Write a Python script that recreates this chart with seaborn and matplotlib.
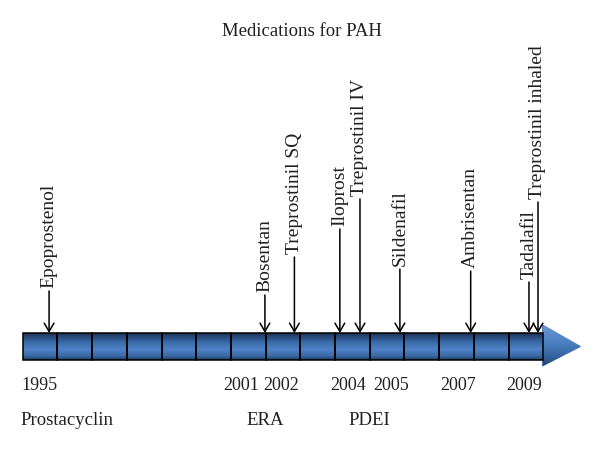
import matplotlib
matplotlib.use("Agg")
import matplotlib.pyplot as plt
import seaborn as sns
import numpy as np
from matplotlib.colors import LinearSegmentedColormap
from matplotlib.patches import Polygon, Rectangle

# data
timeline_years = list(range(1995, 2010))
drugs = ["Epoprostenol", "Bosentan", "Treprostinil SQ", "Iloprost", "Treprostinil IV",
         "Sildenafil", "Ambrisentan", "Tadalafil", "Treprostinil inhaled"]
drug_pos = [1995.26, 2001.48, 2002.33, 2003.64, 2004.22, 2005.37, 2007.41, 2009.09, 2009.35]
stem_len = [42, 38, 76, 104, 134, 64, 62, 51, 131]
year_labels = ["1995", "2001", "2002", "2004", "2005", "2007", "2009"]
year_label_pos = [1994.97, 2000.8, 2001.95, 2003.87, 2005.12, 2007.05, 2008.95]
classes = ["Prostacyclin", "ERA", "PDEI"]
class_pos = [1995.77, 2001.48, 2004.5]

TXT = "#231f20"
BAR_DEPTH = 27

sns.set_theme(style="white")
plt.rcParams['font.family'] = ['Liberation Serif', 'DejaVu Serif']

fig = plt.figure(figsize=(6, 4.52), dpi=100)
ax = fig.add_axes([0, 0, 1, 1])

# timeline blocks, one per year
sns.barplot(x=timeline_years, y=[-BAR_DEPTH] * len(timeline_years), native_scale=True,
            width=1, errorbar=None, facecolor="none", edgecolor="black",
            linewidth=1.1, zorder=3, ax=ax)

x0 = timeline_years[0] - 0.5
x1 = timeline_years[-1] + 0.5
ax.set_xlim(1995 - 40.05 / 34.7, 1995 + 559.95 / 34.7)
ax.set_ylim(-118, 334)
ax.axis("off")

# gradient fill of the bar
bar_cmap = LinearSegmentedColormap.from_list(
    "bar", [(0, "#1b3254"), (0.3, "#3765a2"), (0.6, "#4e83c7"), (0.85, "#3c6aa6"), (1, "#1f3a60")])
grad = np.linspace(0, 1, 64).reshape(-1, 1)
im = ax.imshow(grad, cmap=bar_cmap, aspect="auto", extent=(x0, x1, -BAR_DEPTH, 0),
               origin="upper", zorder=2)
clip = Rectangle((x0, -BAR_DEPTH), x1 - x0, BAR_DEPTH, transform=ax.transData)
im.set_clip_path(clip)

# arrowhead
head_len = 1.07
mid = -BAR_DEPTH / 2
head = Polygon([(x1 - 0.02, 8), (x1 + head_len, mid), (x1 - 0.02, -33)], closed=True,
               facecolor="none", edgecolor="#4a78b5", linewidth=0.8, zorder=2)
ax.add_patch(head)
head_cmap = LinearSegmentedColormap.from_list(
    "head", [(0, "#6896d2"), (0.45, "#4a7fc2"), (0.8, "#345f9a"), (1, "#223f68")])
im2 = ax.imshow(grad, cmap=head_cmap, aspect="auto",
                extent=(x1 - 0.02, x1 + head_len, -33, 8), origin="upper", zorder=2)
im2.set_clip_path(head)

# drug arrows and labels
for name, xp, ln in zip(drugs, drug_pos, stem_len):
    ax.annotate("", xy=(xp, 0), xytext=(xp, ln),
                arrowprops=dict(arrowstyle="->,head_length=0.6,head_width=0.35",
                                color="black", lw=1.1, mutation_scale=10,
                                shrinkA=0, shrinkB=0), zorder=4)
    ax.text(xp, ln + 4, name, rotation=90, ha="center", va="bottom",
            fontsize=14, color=TXT)

# year labels
for lab, xp in zip(year_labels, year_label_pos):
    ax.text(xp, -52, lab, ha="center", va="center", fontsize=13, color=TXT)

# drug class labels
for name, xp in zip(classes, class_pos):
    ax.text(xp, -87, name, ha="center", va="center", fontsize=13.5, color=TXT)

ax.text(2002.55, 303, "Medications for PAH", ha="center", va="center",
        fontsize=13.5, color=TXT)

fig.savefig("out.png", dpi=100, facecolor="white")
